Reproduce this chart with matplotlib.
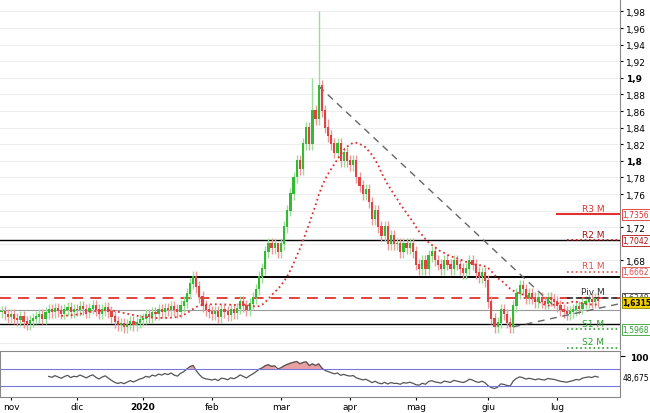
import numpy as np
import matplotlib.pyplot as plt

closes = [1.618, 1.615, 1.612, 1.615, 1.61, 1.608, 1.612, 1.606, 1.603, 1.607, 1.61,
          1.612, 1.615, 1.61, 1.617, 1.62, 1.618, 1.622, 1.619, 1.616, 1.62, 1.623, 1.618, 1.621,
          1.62, 1.624, 1.621, 1.618, 1.622, 1.625, 1.62, 1.616, 1.62, 1.623, 1.618, 1.612, 1.606,
          1.602, 1.604, 1.60, 1.603, 1.606, 1.602, 1.605, 1.608,
          1.61, 1.614, 1.612, 1.617, 1.615, 1.62, 1.618, 1.622, 1.62, 1.624, 1.62, 1.618, 1.625,
          1.63, 1.64, 1.652, 1.66, 1.648, 1.636, 1.625, 1.62, 1.618,
          1.615, 1.618, 1.612, 1.62, 1.618, 1.614, 1.62, 1.617, 1.622, 1.63, 1.625, 1.62, 1.628,
          1.635, 1.645, 1.66, 1.67, 1.69, 1.70, 1.695, 1.70, 1.69,
          1.70, 1.72, 1.74, 1.76, 1.78, 1.80, 1.79, 1.82, 1.84, 1.82, 1.86, 1.85, 1.89,
          1.86, 1.84, 1.83, 1.82, 1.81, 1.82, 1.80, 1.81, 1.80,
          1.795, 1.80, 1.78, 1.77, 1.76, 1.765, 1.75, 1.73, 1.74, 1.72, 1.71, 1.72, 1.70, 1.71,
          1.70, 1.70, 1.69, 1.70, 1.695, 1.70, 1.69,
          1.675, 1.67, 1.68, 1.67, 1.685, 1.69, 1.68, 1.675, 1.67, 1.68, 1.675, 1.67, 1.68, 1.675,
          1.67, 1.665, 1.67, 1.68, 1.675, 1.665, 1.66, 1.665, 1.655,
          1.63, 1.61, 1.60, 1.605, 1.62, 1.615, 1.605, 1.60, 1.625, 1.64, 1.65, 1.645, 1.635, 1.64,
          1.635, 1.63, 1.635, 1.63, 1.628, 1.635, 1.632, 1.63,
          1.625, 1.62, 1.618, 1.615, 1.618, 1.62, 1.624, 1.622, 1.628, 1.63, 1.632, 1.63, 1.634, 1.6315]
big_highs = {101: 1.98, 88: 1.70, 99: 1.90, 104: 1.85}
month_labels = ['nov', 'dic', '2020', 'feb', 'mar', 'apr', 'mag', 'giu', 'lug']
month_idx = [3, 24, 45, 67, 89, 111, 132, 155, 177]

levels = [('R3 M', 1.7356, '#e03030', '-'), ('R2 M', 1.7042, '#b01010', ':'),
          ('R1 M', 1.6662, '#e05050', ':'), ('Piv M', 1.6348, '#333333', '--'),
          ('S1 M', 1.5968, '#30a030', ':'), ('S2 M', 1.5746, '#30a030', ':')]
black_lines = [1.705, 1.660, 1.604]
last_price = 1.6315
rsi_last = 48.675

closes = np.array(closes)
n = len(closes)
opens = np.r_[closes[0], closes[:-1]]
x = np.arange(n)
highs = np.maximum(opens, closes) + 0.007
lows = np.minimum(opens, closes) - 0.007
for k, v in big_highs.items():
    highs[k] = v

fig = plt.figure(figsize=(6.5, 4.14), dpi=100)
ax = fig.add_axes([0, 0.155, 0.954, 0.845])
ax2 = fig.add_axes([0, 0.039, 0.954, 0.111], sharex=ax)

for v in np.arange(1.58, 1.99, 0.02):
    ax.axhline(v, color='#eeeeee', lw=0.8, zorder=0)

up = closes >= opens
cols = np.where(up, '#33bb33', '#dd4444')
ax.vlines(x, lows, highs, colors=np.where(up, '#99dd99', '#ee9999'), lw=1, zorder=2)
ax.bar(x, np.abs(closes - opens) + 0.001, bottom=np.minimum(opens, closes), width=0.7,
       color=cols, zorder=3)

ma = np.convolve(closes, np.ones(20) / 20, mode='valid')
ax.plot(x[19:], ma, color='#e03030', ls=':', lw=1.3, zorder=4)

for v in black_lines:
    ax.axhline(v, color='black', lw=1.4 if v == 1.660 else 1.0, zorder=1)
ax.axhline(1.62, color='#999999', lw=0.8, zorder=1)
ax.axhline(1.6348, color='#e03030', ls=(0, (6, 4)), lw=1.3, zorder=1)

ax.plot([101, 176], [1.89, 1.625], color='#666666', ls=(0, (5, 4)), lw=1)
ax.plot([163, 197], [1.600, 1.628], color='#666666', ls=(0, (5, 4)), lw=1)

for name, v, c, ls in levels:
    start = 177 if name == 'R3 M' else 180
    ax.plot([start, 197], [v, v], color=c, ls=ls, lw=1.5 if ls == '-' else 1.2)
    ax.text(192, v + 0.002, name, color=c, fontsize=6.5, ha='right', va='bottom')
    if name != 'S2 M':
        ax.text(1.004, v, f'{v:.4f}'.replace('.', ','), transform=ax.get_yaxis_transform(),
                color=c, fontsize=5.5, va='center', ha='left',
                bbox=dict(boxstyle='square,pad=0.1', fc='white', ec=c, lw=0.6))
ax.text(1.004, last_price - 0.002, f'{last_price:.4f}'.replace('.', ','), transform=ax.get_yaxis_transform(),
        fontsize=5.5, va='center', ha='left', weight='bold',
        bbox=dict(boxstyle='square,pad=0.1', fc='#f5d000', ec='#888800', lw=0.6))

ax.set_xlim(-0.5, 197)
ax.set_ylim(1.5735, 1.995)
ax.yaxis.tick_right()
ticks = [1.98, 1.96, 1.94, 1.92, 1.9, 1.88, 1.86, 1.84, 1.82, 1.8, 1.78, 1.76, 1.72, 1.68]
ax.set_yticks(ticks)
labels = []
for t in ticks:
    s = f'{t:.2f}'.replace('.', ',')
    if t in (1.8, 1.9):
        s = s[:-1]
    labels.append(s)
ax.set_yticklabels(labels, fontsize=6.5)
for lab, t in zip(ax.get_yticklabels(), ticks):
    if t in (1.8, 1.9):
        lab.set_fontweight('bold')
ax.tick_params(axis='y', length=2, pad=2)
ax.tick_params(axis='x', bottom=False, labelbottom=False)
for s in ['top', 'left', 'bottom']:
    ax.spines[s].set_visible(False)
ax.spines['right'].set_color('#888888')

# RSI (Wilder)
delta = np.diff(closes)
gain = np.where(delta > 0, delta, 0)
loss = np.where(delta < 0, -delta, 0)
ag = gain[:14].mean()
al = loss[:14].mean()
rsi = []
for g, l in zip(gain[14:], loss[14:]):
    ag = (ag * 13 + g) / 14
    al = (al * 13 + l) / 14
    rsi.append(100 - 100 / (1 + ag / max(al, 1e-9)))
rsi = np.array(rsi)
rx = x[15:]
ax2.plot(rx, rsi, color='#555555', lw=0.9)
ax2.fill_between(rx, 70, rsi, where=rsi > 70, color='#e8a0a0')
ax2.axhline(70, color='#7777dd', lw=0.8)
ax2.axhline(30, color='#7777dd', lw=0.8)
ax2.set_ylim(4, 112)
ax2.yaxis.tick_right()
ax2.set_yticks([100])
ax2.set_yticklabels(['100'], fontsize=6.5, weight='bold')
ax2.text(1.004, rsi_last, f'{rsi_last:.3f}'.replace('.', ','), transform=ax2.get_yaxis_transform(),
         fontsize=5.5, va='center', ha='left')
ax2.set_xticks(month_idx)
ax2.set_xticklabels(month_labels, fontsize=6.5)
for lab in ax2.get_xticklabels():
    if lab.get_text() == '2020':
        lab.set_fontweight('bold')
ax2.tick_params(axis='x', length=2, pad=2)
for s in ax2.spines.values():
    s.set_color('#888888')

fig.savefig('out.png', dpi=100)
